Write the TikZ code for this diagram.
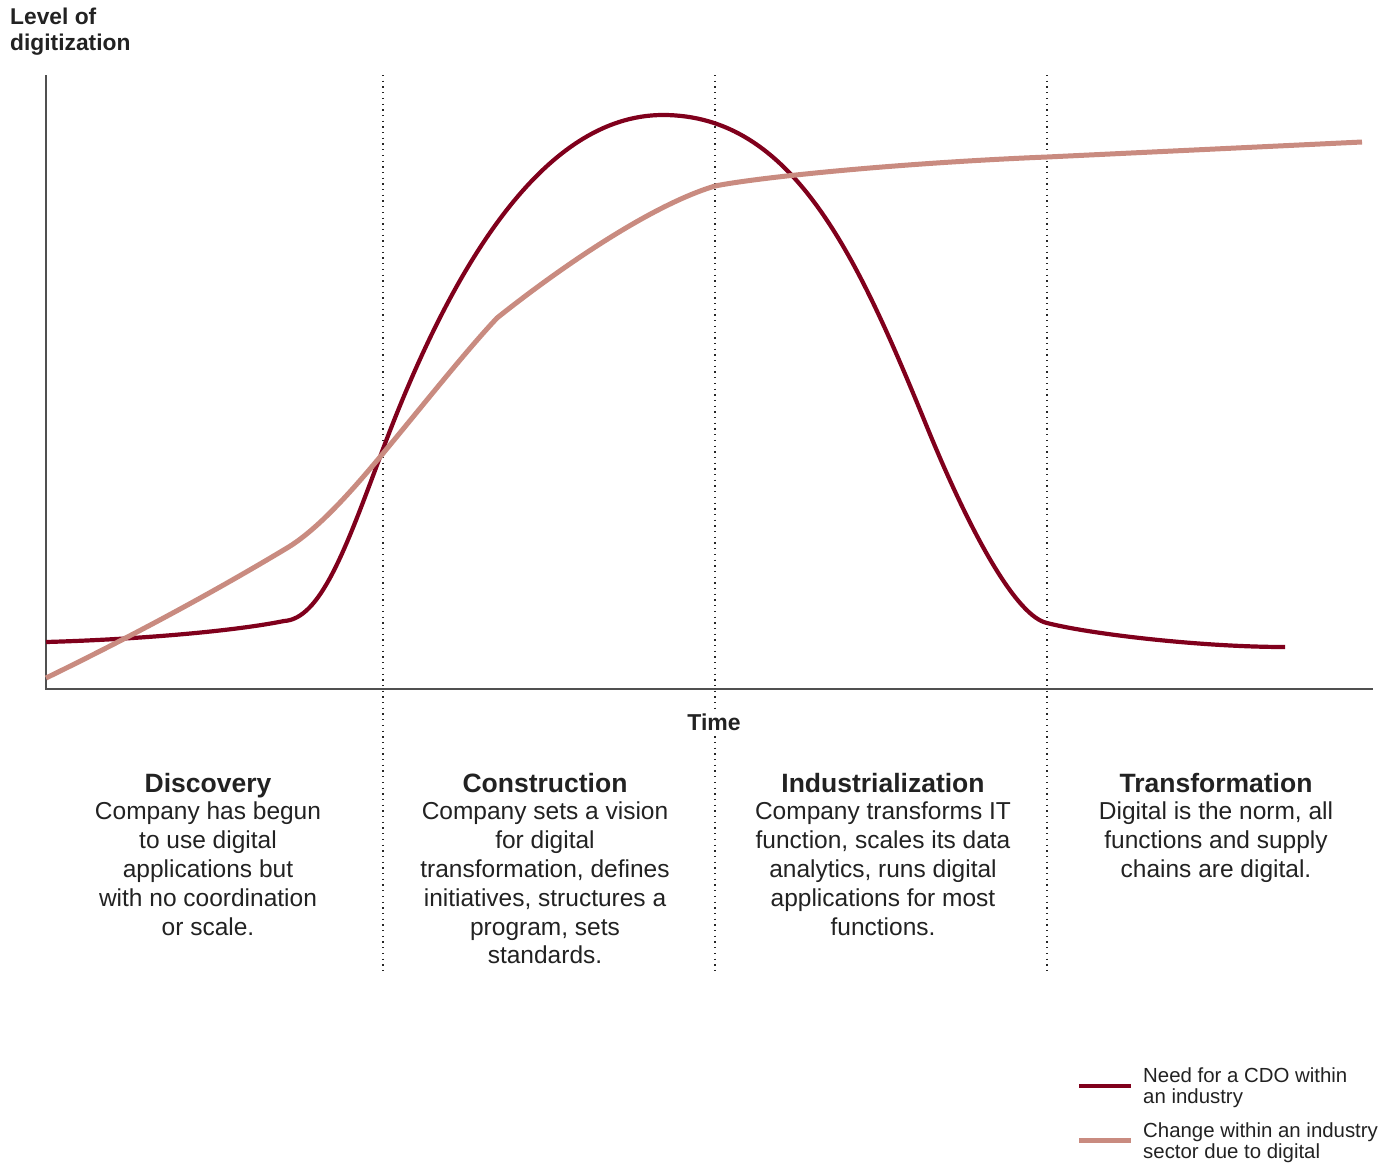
\documentclass[tikz,border=0pt]{standalone}
\usepackage{fontspec}
\setmainfont{Liberation Sans}
\definecolor{cdored}{RGB}{128,0,28}
\definecolor{chglight}{RGB}{201,139,128}
\definecolor{txt}{RGB}{34,34,34}
\definecolor{axisgray}{RGB}{80,80,80}
\begin{document}
\begin{tikzpicture}[x=1pt,y=-1pt,
  phaseline/.style={line width=1.3pt, dash pattern=on 1.3pt off 4.4pt, black!85},
  axisline/.style={line width=1.8pt, axisgray},
  redcurve/.style={line width=4.2pt, cdored, line join=round},
  lightcurve/.style={line width=5pt, chglight, line join=round},
  heading/.style={font=\fontsize{26.5}{30}\selectfont\bfseries, text=txt, inner sep=0pt, anchor=base},
  bodytext/.style={font=\fontsize{24.5}{28.8}\selectfont, text=txt, inner sep=0pt, anchor=north, align=center},
  legendtext/.style={font=\fontsize{20.4}{21.2}\selectfont, text=txt, inner sep=0pt, anchor=north west, align=left},
  axislabel/.style={text=txt, inner sep=0pt}
]
\useasboundingbox (0,0) rectangle (1396,1165);

% phase separators
\coordinate (d1t) at (383,75);  \coordinate (d1b) at (383,972);
\coordinate (d2t) at (715,75);  \coordinate (d2b) at (715,972);
\coordinate (d3t) at (1047,75); \coordinate (d3b) at (1047,972);
\draw[phaseline] (d1t) -- (d1b);
\draw[phaseline] (d2t) -- (d2b);
\draw[phaseline] (d3t) -- (d3b);

% axes
\coordinate (ytop) at (46,75);
\coordinate (orig) at (46,689);
\coordinate (xend) at (1373,689);
\draw[axisline] (ytop) -- (orig) -- (xend);

% need for a CDO
\draw[redcurve] (46,642)
  .. controls (150,639) and (240,630) .. (284,621)
  .. controls (320,619) and (345,551) .. (380,457)
  .. controls (450,268) and (543,115) .. (663,115)
  .. controls (793,115) and (857,255.5) .. (927,427)
  .. controls (972,537) and (1017,616.4) .. (1047,623)
  .. controls (1090,634) and (1200,647) .. (1285,647);

% change within industry
\draw[lightcurve] (46,678)
  .. controls (126,639) and (207,596) .. (287,548)
  .. controls (317,530) and (350,493) .. (380,457)
  .. controls (420,409) and (465,352) .. (497,318)
  .. controls (547,278) and (645,207) .. (715,186)
  .. controls (760,177) and (900,163) .. (1047,157)
  -- (1362,142);

% axis labels
\node[axislabel, anchor=north west, align=left, font=\fontsize{22.8}{25.5}\selectfont\bfseries] (ylab) at (10,8) {Level of\\digitization};
\node[axislabel, anchor=base, fill=white, inner sep=2pt, font=\fontsize{23}{25}\selectfont\bfseries] (xlab) at (714,730) {Time};

% phases
\node[heading] (h1) at (208,792) {Discovery};
\node[heading] (h2) at (545,792) {Construction};
\node[heading] (h3) at (883,792) {Industrialization};
\node[heading] (h4) at (1216,792) {Transformation};

\node[bodytext] (b1) at (208,802) {Company has begun\\to use digital\\applications but\\with no coordination\\or scale.};
\node[bodytext] (b2) at (545,802) {Company sets a vision\\for digital\\transformation, defines\\initiatives, structures a\\program, sets\\standards.};
\node[bodytext] (b3) at (883,802) {Company transforms IT\\function, scales its data\\analytics, runs digital\\applications for most\\functions.};
\node[bodytext] (b4) at (1216,802) {Digital is the norm, all\\functions and supply\\chains are digital.};

% legend
\coordinate (l1a) at (1079,1086); \coordinate (l1b) at (1131,1086);
\coordinate (l2a) at (1079,1140); \coordinate (l2b) at (1131,1140);
\draw[line width=4.5pt, cdored] (l1a) -- (l1b);
\draw[line width=5pt, chglight] (l2a) -- (l2b);
\node[legendtext] (lt1) at (1143,1067) {Need for a CDO within\\an industry};
\node[legendtext] (lt2) at (1143,1122) {Change within an industry\\sector due to digital};
\end{tikzpicture}
\end{document}
